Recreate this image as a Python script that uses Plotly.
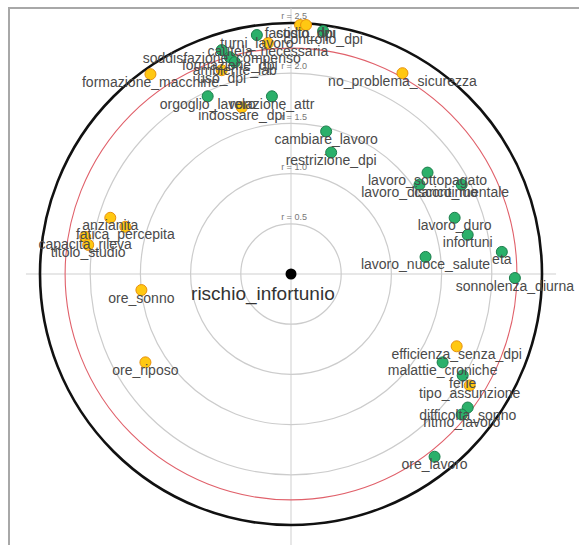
import plotly.graph_objects as go

# Variables linked to the outcome (green) and to the predictors (yellow);
# coordinates are positions on the radial correlation map.
green_names = [
    "orgoglio_lavoro", "relazione_attr", "turni_lavoro", "controllo_dpi",
    "soddisfazione_compenso", "formazione_dpi", "ambiente_lab",
    "cambiare_lavoro", "restrizione_dpi", "lavoro_sottopagato",
    "lavoro_discontinuo", "carico_mentale", "lavoro_duro", "infortuni", "eta",
    "lavoro_nuoce_salute", "sonnolenza_diurna", "malattie_croniche", "ferie",
    "difficolta_sonno", "ritmo_lavoro", "ore_lavoro",
]
green_x = [-0.83, -0.19, -0.34, 0.32, -0.69, -0.61, -0.56, 0.35, 0.40, 1.36,
           1.28, 1.70, 1.63, 1.76, 2.10, 1.34, 2.23, 1.51, 1.71, 1.76, 1.70, 1.43]
green_y = [1.77, 1.77, 2.38, 2.42, 2.23, 2.16, 2.11, 1.42, 1.21, 1.01,
           0.89, 0.89, 0.56, 0.39, 0.22, 0.17, -0.04, -0.88, -1.01, -1.33, -1.40, -1.82]

yellow_names = [
    "fastidio_dpi", "costo_dpi", "cautela_necessaria", "uso_dpi",
    "formazione_macchine", "indossare_dpi", "no_problema_sicurezza",
    "anzianita", "fatica_percepita", "capacita_rileva", "titolo_studio",
    "ore_sonno", "ore_riposo", "efficienza_senza_dpi", "tipo_assunzione",
]
yellow_x = [0.09, 0.15, -0.23, -0.69, -1.40, -0.49, 1.11,
            -1.80, -1.65, -2.05, -2.02, -1.49, -1.45, 1.65, 1.78]
yellow_y = [2.48, 2.48, 2.30, 2.03, 1.99, 1.66, 2.00,
            0.56, 0.47, 0.37, 0.29, -0.16, -0.88, -0.72, -1.11]

center_name = "rischio_infortunio"

# reference rings
ring_radii = [0.5, 1.0, 1.5, 2.0]
threshold_radius = 2.25
outer_radius = 2.5

LABEL_DY = -0.09
FONT = "Liberation Sans, Arial, sans-serif"

fig = go.Figure()

shapes = []
# axes through the centre
shapes.append(dict(type="line", xref="x", yref="y", x0=-2.64, x1=2.64, y0=0, y1=0,
                   line=dict(color="#cfcfcf", width=1), layer="below"))
shapes.append(dict(type="line", xref="x", yref="y", x0=0, x1=0, y0=2.65, y1=-2.75,
                   line=dict(color="#cfcfcf", width=1), layer="below"))
for r in ring_radii:
    shapes.append(dict(type="circle", xref="x", yref="y", x0=-r, x1=r, y0=-r, y1=r,
                       line=dict(color="#cccccc", width=1.2), layer="below"))
shapes.append(dict(type="circle", xref="x", yref="y",
                   x0=-threshold_radius, x1=threshold_radius,
                   y0=-threshold_radius, y1=threshold_radius,
                   line=dict(color="#e0606a", width=1.1), layer="below"))
shapes.append(dict(type="circle", xref="x", yref="y",
                   x0=-outer_radius, x1=outer_radius, y0=-outer_radius, y1=outer_radius,
                   line=dict(color="#111111", width=2.6), layer="below"))
# panel frame
shapes.append(dict(type="rect", xref="paper", yref="paper",
                   x0=9 / 579, x1=1.2, y0=-0.2, y1=1 - 8 / 545,
                   line=dict(color="#a8a8a8", width=2), layer="below"))

# ring value labels
ring_label_r = ring_radii + [outer_radius]
fig.add_trace(go.Scatter(
    x=[0.03] * len(ring_label_r), y=[r + 0.06 for r in ring_label_r],
    mode="text", text=[f"r = {r:.1f}" for r in ring_label_r],
    textfont=dict(family=FONT, size=9, color="#777777"),
    hoverinfo="skip", showlegend=False,
))

fig.add_trace(go.Scatter(
    x=green_x, y=green_y, mode="markers",
    marker=dict(size=11, color="#2bb06a", line=dict(color="#1b7d4b", width=1)),
    hovertext=green_names, showlegend=False,
))
fig.add_trace(go.Scatter(
    x=yellow_x, y=yellow_y, mode="markers",
    marker=dict(size=11, color="#ffc812", line=dict(color="#e8900c", width=1)),
    hovertext=yellow_names, showlegend=False,
))

all_names = green_names + yellow_names
all_x = green_x + yellow_x
all_y = green_y + yellow_y
fig.add_trace(go.Scatter(
    x=all_x, y=[v + LABEL_DY for v in all_y], mode="text", text=all_names,
    textposition="middle center",
    textfont=dict(family=FONT, size=14, color="#4a4a4a"),
    hoverinfo="skip", showlegend=False,
))

# central node
fig.add_trace(go.Scatter(
    x=[0], y=[0], mode="markers", marker=dict(size=11, color="#000000"),
    hovertext=[center_name], showlegend=False,
))
fig.add_trace(go.Scatter(
    x=[-0.28], y=[-0.21], mode="text", text=[center_name],
    textfont=dict(family=FONT, size=19, color="#333333"),
    hoverinfo="skip", showlegend=False,
))

fig.update_layout(
    width=579, height=545,
    margin=dict(l=0, r=0, t=0, b=0),
    paper_bgcolor="white", plot_bgcolor="white",
    shapes=shapes,
    xaxis=dict(range=[-291 / 100.4, 288 / 100.4], visible=False, fixedrange=True),
    yaxis=dict(range=[-271 / 100.4, 274 / 100.4], visible=False, fixedrange=True),
)

fig.write_html("out.html")
